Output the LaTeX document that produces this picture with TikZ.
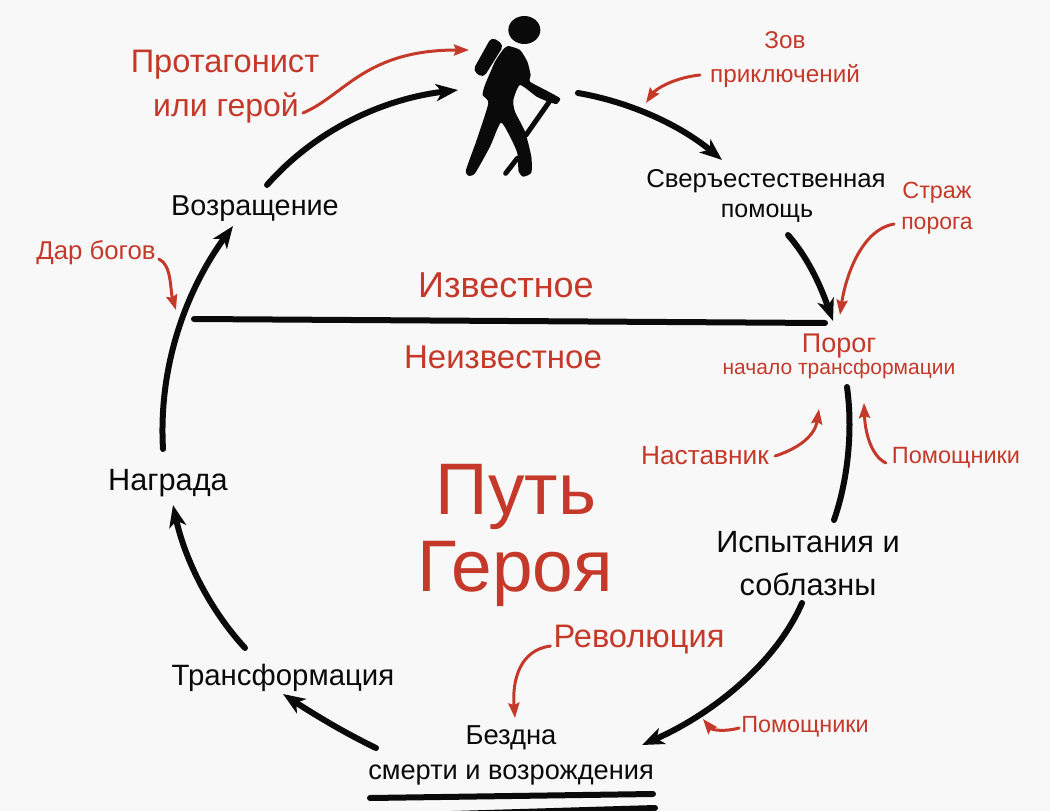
\documentclass[tikz,border=0pt]{standalone}
\usepackage{fontspec}
\setmainfont{Liberation Sans}
\usetikzlibrary{arrows.meta}
\definecolor{herored}{HTML}{C5392A}
\definecolor{paper}{HTML}{F8F8F8}
\definecolor{ink}{HTML}{0A0A0A}
\newcommand{\fsz}[1]{\fontsize{#1}{#1}\selectfont}
\tikzset{
  blk/.style={text=ink,inner sep=0pt,anchor=center},
  rd/.style={text=herored,inner sep=0pt,anchor=center},
  path/.style={draw=ink,line width=6pt,line cap=round},
  patharrow/.style={path,-{Stealth[length=22pt,width=17pt,inset=6pt]}},
  redarrow/.style={draw=herored,line width=3pt,line cap=round,-{Stealth[length=15pt,width=11pt,inset=2pt]}},
}
\begin{document}
\begin{tikzpicture}[x=1pt,y=-1pt]
\useasboundingbox (0,0) rectangle (1050,811);
\clip (0,0) rectangle (1050,811);
\fill[paper] (0,0) rectangle (1050,811);
% hero
\begin{scope}[shift={(440,0)},xscale=1/3,yscale=1/3]
\fill[ink] (253,90) ellipse [x radius=48,y radius=42];
\fill[ink,rounded corners=5pt] (155,110) -- (192,135) -- (130,234) -- (98,212) -- cycle;
\fill[ink] plot[smooth cycle,tension=0.35] coordinates {(205,138) (240,150) (262,185) (272,225) (270,245) (320,272) (360,295) (350,312) (325,305) (290,290) (240,255) (220,300) (225,335) (255,395) (274,470) (274,518) (250,530) (236,515) (232,460) (215,420) (183,368) (150,440) (105,520) (85,527) (78,510) (110,420) (145,310) (128,285) (135,255) (165,185) (190,148)};
\draw[ink,line width=5pt,line cap=round] (328,305) -- (258,405);
\draw[ink,line width=5pt,line cap=round] (232,475) -- (197,520);
\end{scope}
% labels
\node[rd] (prot) at (225,65) {\fsz{32.6}Протагонист};
\node[rd] (ger) at (226,108) {\fsz{32}или герой};
\node[rd] (zov) at (785,40) {\fsz{24.3}Зов};
\node[rd] (pri) at (785,76) {\fsz{24.3}приключений};
\node[blk] (sv1) at (766,181) {\fsz{25.8}Сверъестественная};
\node[blk] (sv2) at (767,213) {\fsz{25}помощь};
\node[rd] (st1) at (937,193) {\fsz{23.4}Страж};
\node[rd] (st2) at (937,226) {\fsz{23}порога};
\node[blk] (voz) at (255,209) {\fsz{28.8}Возращение};
\node[rd] (dar) at (96,253) {\fsz{25.8}Дар богов};
\node[rd] (izv) at (506,285) {\fsz{36}Известное};
\node[rd] (neizv) at (503,357) {\fsz{33}Неизвестное};
\node[rd] (por) at (839,346) {\fsz{27}Порог};
\node[rd] (nach) at (839,369) {\fsz{21}начало трансформации};
\node[rd] (nas) at (705,456) {\fsz{26.3}Наставник};
\node[rd] (pom1) at (956,458) {\fsz{23.5}Помощники};
\node[blk] (nag) at (168,483) {\fsz{30.7}Награда};
\node[rd] (put) at (516,497) {\fsz{73}Путь};
\node[rd] (ger2) at (515,574) {\fsz{73}Героя};
\node[blk] (isp1) at (808,542) {\fsz{30.7}Испытания и};
\node[blk] (isp2) at (808,584) {\fsz{30.7}соблазны};
\node[rd] (rev) at (639,640) {\fsz{32.6}Революция};
\node[rd] (pom2) at (805,727) {\fsz{23.4}Помощники};
\node[blk] (tra) at (283,678) {\fsz{29.4}Трансформация};
\node[blk] (bez) at (511,738) {\fsz{27.4}Бездна};
\node[blk] (sme) at (511,775) {\fsz{27.2}смерти и возрождения};
% connector ends
\coordinate (a1) at (267,185); \coordinate (a2) at (458,90);
\coordinate (b1) at (578,93); \coordinate (b2) at (722,160);
\coordinate (c1) at (788,235); \coordinate (c2) at (833,321);
\coordinate (d1) at (847,387); \coordinate (d2) at (834,520);
\coordinate (e1) at (802,603); \coordinate (e2) at (642,745);
\coordinate (f1) at (376,748); \coordinate (f2) at (283,694);
\coordinate (g1) at (245,648); \coordinate (g2) at (173,505);
\coordinate (h1) at (163,449); \coordinate (h2) at (233,226);
\coordinate (l1) at (194,319); \coordinate (l2) at (825,323);
\coordinate (m1) at (370,798); \coordinate (m2) at (653,794);
\coordinate (n1) at (385,816); \coordinate (n2) at (655,808);
\coordinate (ra) at (469,50); \coordinate (rb) at (646,103);
\coordinate (rc) at (840,315); \coordinate (rd1) at (176,310);
\coordinate (re) at (819,409); \coordinate (rf) at (864,403);
\coordinate (rg) at (515,718); \coordinate (rh) at (703,719);
% black connectors
\draw[patharrow] (a1) .. controls (320,125) and (390,98) .. (a2);
\draw[patharrow] (b1) .. controls (630,102) and (680,125) .. (b2);
\draw[patharrow] (c1) .. controls (810,260) and (822,290) .. (c2);
\draw[path] (d1) .. controls (853,430) and (848,480) .. (d2);
\draw[patharrow] (e1) .. controls (775,665) and (710,715) .. (e2);
\draw[patharrow] (f1) .. controls (345,733) and (315,715) .. (f2);
\draw[patharrow] (g1) .. controls (210,610) and (185,560) .. (g2);
\draw[patharrow] (h1) .. controls (158,360) and (190,285) .. (h2);
\draw[path] (l1) -- (l2);
\draw[path] (m1) -- (m2);
\draw[path] (n1) -- (n2);
% red connectors
\draw[redarrow] (ger.east) ++(4,5) .. controls (345,95) and (365,50) .. (ra);
\draw[redarrow] (pri.west) ++(-10,-1) .. controls (672,78) and (655,90) .. (rb);
\draw[redarrow] (st2.west) ++(-7,-2) .. controls (860,230) and (845,280) .. (rc);
\draw[redarrow] (dar.east) ++(3,6) .. controls (172,265) and (170,290) .. (rd1);
\draw[redarrow] (nas.east) ++(6,0) .. controls (800,448) and (815,435) .. (re);
\draw[redarrow] (pom1.west) ++(-6,5) .. controls (870,455) and (865,430) .. (rf);
\draw[redarrow] (rev.west) ++(-3,6) .. controls (520,650) and (512,680) .. (rg);
\draw[redarrow] (pom2.west) ++(-2,1) .. controls (725,732) and (712,730) .. (rh);
\end{tikzpicture}
\end{document}
